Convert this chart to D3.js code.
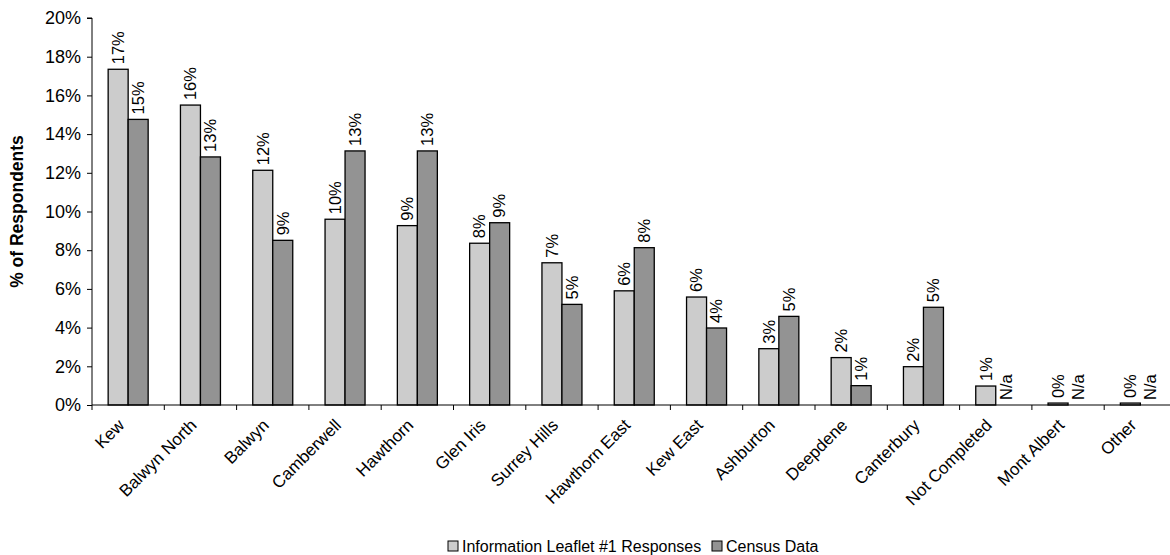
<!DOCTYPE html>
<html><head><meta charset="utf-8">
<script src="https://cdn.jsdelivr.net/npm/d3@7"></script>
<style>
html,body{margin:0;padding:0;background:#fff;}
svg{display:block;font-family:"Liberation Sans",Arial,sans-serif;}
</style></head>
<body><svg id="c" width="1170" height="555"></svg>
<script>
const categories = ["Kew","Balwyn North","Balwyn","Camberwell","Hawthorn","Glen Iris","Surrey Hills","Hawthorn East","Kew East","Ashburton","Deepdene","Canterbury","Not Completed","Mont Albert","Other"];
const leafletValues = [17.35,15.5,12.13,9.6,9.27,8.36,7.35,5.9,5.58,2.91,2.45,1.98,0.98,0.1,0.1];
const censusValues = [14.76,12.82,8.51,13.13,13.13,9.42,5.2,8.13,3.98,4.58,1.0,5.05,null,null,null];
const seriesNames = ["Information Leaflet #1 Responses","Census Data"];
const seriesColors = ["#cccccc","#939393"];
const yTicks = [0,2,4,6,8,10,12,14,16,18,20];

const svg = d3.select("#c");
const mLeft = 92, mRight = 1176.5, mTop = 18, mBottom = 405;

const x = d3.scaleBand().domain(categories).range([mLeft, mRight]).padding(0);
const y = d3.scaleLinear().domain([0,20]).range([mBottom, mTop]);
const barW = 20;

// y axis
const yAxis = d3.axisLeft(y).tickValues(yTicks).tickFormat(d => d + "%").tickSize(5).tickPadding(6);
const gy = svg.append("g").attr("transform", `translate(${mLeft},0)`).call(yAxis);
gy.select(".domain").attr("stroke","#000").attr("d", `M-5,${mTop}H0V${mBottom}`);
gy.selectAll("text").attr("font-size", 18).attr("fill","#000").attr("font-family","Liberation Sans, Arial, sans-serif");
gy.selectAll("line").attr("stroke","#000");

// bars
const series = [leafletValues, censusValues];
series.forEach((vals, si) => {
  const idx = categories.map((c,i) => i).filter(i => vals[i] !== null);
  svg.append("g").selectAll("rect").data(idx).join("rect")
    .attr("x", i => x(categories[i]) + x.bandwidth()/2 + (si === 0 ? -barW : 0))
    .attr("y", i => y(vals[i]))
    .attr("width", barW)
    .attr("height", i => mBottom - y(vals[i]))
    .attr("fill", seriesColors[si])
    .attr("stroke", "#000").attr("stroke-width", 1.3);
  svg.append("g").selectAll("text").data(categories).join("text")
    .attr("transform", (d,i) => {
      const v = vals[i] === null ? 0 : vals[i];
      const cx = x(d) + x.bandwidth()/2 + (si === 0 ? -barW/2 : barW/2);
      return `translate(${cx},${y(v) - 5}) rotate(-90)`;
    })
    .attr("dy","0.35em")
    .attr("font-size", 16.5)
    .attr("fill","#000")
    .text((d,i) => vals[i] === null ? "N/a" : Math.round(vals[i]) + "%");
});

// x axis
const gx = svg.append("g").attr("transform", `translate(0,${mBottom})`);
gx.append("line").attr("x1", mLeft).attr("x2", mRight).attr("y1",0).attr("y2",0).attr("stroke","#000");
gx.selectAll("line.tk").data(categories).join("line").attr("class","tk")
  .attr("x1", d => x(d)).attr("x2", d => x(d)).attr("y1",0).attr("y2",5).attr("stroke","#000");
gx.selectAll("text").data(categories).join("text")
  .attr("transform", d => `translate(${x(d) + x.bandwidth()/2 - 7},${17}) rotate(-45)`)
  .attr("text-anchor","end")
  .attr("dy","0.35em")
  .attr("font-size", 17)
  .attr("fill","#000")
  .text(d => d);

// y title
svg.append("text")
  .attr("transform", `translate(23,${(mTop+mBottom)/2}) rotate(-90)`)
  .attr("text-anchor","middle")
  .attr("font-size", 17.5).attr("font-weight","bold")
  .text("% of Respondents");

// legend
const legend = svg.append("g");
const legX = [448, 712];
seriesNames.forEach((n, i) => {
  legend.append("rect").attr("x", legX[i]).attr("y", 541).attr("width", 10).attr("height", 10)
    .attr("fill", seriesColors[i]).attr("stroke","#000").attr("stroke-width",1);
  legend.append("text").attr("x", legX[i] + 14).attr("y", 546).attr("dy","0.35em")
    .attr("font-size", 16).attr("fill","#000").text(n);
});
</script></body></html>
